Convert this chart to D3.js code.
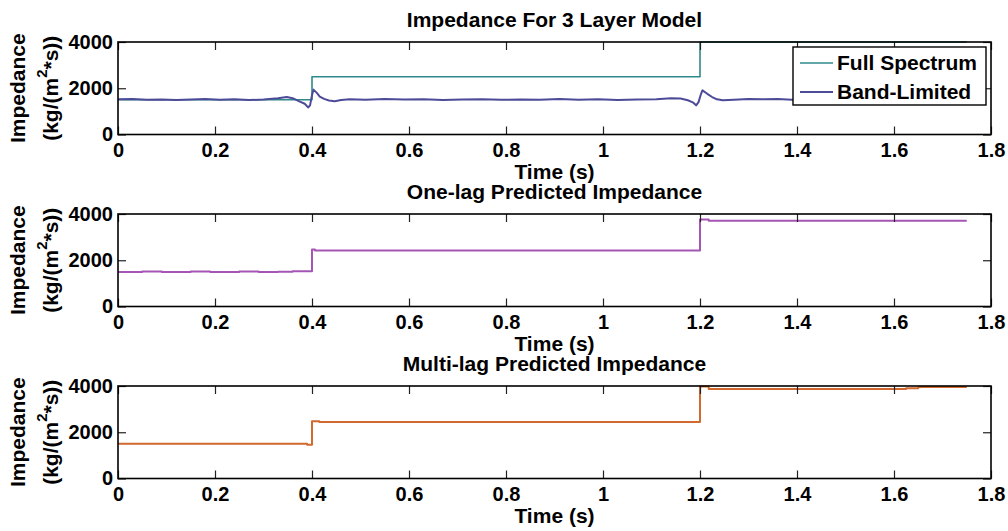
<!DOCTYPE html>
<html>
<head>
<meta charset="utf-8">
<script src="https://cdn.jsdelivr.net/npm/d3@7"></script>
<style>
  body { margin: 0; background: #fff; }
  text { font-family: "Liberation Sans", Arial, sans-serif; font-weight: bold; fill: #000; }
</style>
</head>
<body>
<script>
// ---------------- data ----------------
const xTicks = [0, 0.2, 0.4, 0.6, 0.8, 1, 1.2, 1.4, 1.6, 1.8];
const xTickLabels = ["0", "0.2", "0.4", "0.6", "0.8", "1", "1.2", "1.4", "1.6", "1.8"];
const yTicks = [0, 2000, 4000];
const yTickLabels = ["0", "2000", "4000"];

const titles = ["Impedance For 3 Layer Model", "One-lag Predicted Impedance", "Multi-lag Predicted Impedance"];
const xLabel = "Time (s)";
const legendNames = ["Full Spectrum", "Band-Limited"];

// Full spectrum (step after)
const fullT = [0, 0.4, 1.2, 1.75];
const fullV = [1500, 2500, 4000, 4000];

// Band-limited (continuous)
const bandT = [0, 0.03, 0.06, 0.09, 0.12, 0.15, 0.18, 0.21, 0.24, 0.27, 0.30, 0.33, 0.348, 0.36, 0.375, 0.385, 0.392, 0.396, 0.400, 0.403, 0.41, 0.416, 0.425, 0.435, 0.447, 0.46, 0.478, 0.51, 0.55, 0.59, 0.63, 0.67, 0.71, 0.75, 0.79, 0.83, 0.87, 0.91, 0.95, 0.99, 1.03, 1.07, 1.11, 1.14, 1.16, 1.175, 1.185, 1.192, 1.197, 1.202, 1.205, 1.215, 1.225, 1.235, 1.247, 1.27, 1.30, 1.33, 1.36, 1.39, 1.42, 1.46, 1.50, 1.55, 1.60, 1.65, 1.70, 1.75];
const bandV = [1520, 1530, 1500, 1515, 1490, 1510, 1530, 1500, 1520, 1490, 1510, 1570, 1620, 1570, 1420, 1330, 1170, 1260, 1700, 1940, 1800, 1640, 1540, 1470, 1440, 1490, 1520, 1500, 1530, 1510, 1520, 1490, 1510, 1520, 1500, 1515, 1505, 1530, 1500, 1520, 1490, 1510, 1525, 1570, 1560, 1480, 1390, 1260, 1400, 1750, 1910, 1760, 1620, 1520, 1480, 1500, 1540, 1520, 1530, 1500, 1510, 1520, 1500, 1510, 1520, 1500, 1510, 1500];

// One-lag predicted (step after)
const oneT = [0, 0.05, 0.09, 0.15, 0.19, 0.25, 0.29, 0.33, 0.36, 0.4, 0.406, 1.2, 1.218, 1.75];
const oneV = [1490, 1515, 1495, 1515, 1495, 1510, 1490, 1500, 1520, 2460, 2420, 3760, 3710, 3710];

// Multi-lag predicted (step after)
const multiT = [0, 0.39, 0.4, 0.415, 1.2, 1.218, 1.625, 1.65, 1.75];
const multiV = [1500, 1460, 2480, 2440, 3980, 3870, 3900, 3960, 3960];

// ---------------- layout ----------------
const W = 1008, H = 531;
const left = 118, right = 991;
const tops = [42, 214, 386];
const ph = 92.5;
const colors = { full: "#2f8a8c", band: "#4d4b98", one: "#a556b4", multi: "#d2692e" };

const svg = d3.select("body").append("svg").attr("width", W).attr("height", H);
svg.append("rect").attr("width", W).attr("height", H).attr("fill", "#fff");

const x = d3.scaleLinear().domain([0, 1.8]).range([left, right]);

function zip(t, v) { return t.map((d, i) => [d, v[i]]); }

const panels = [
  { series: [
      { data: zip(fullT, fullV), color: colors.full, curve: d3.curveStepAfter, w: 1.6 },
      { data: zip(bandT, bandV), color: colors.band, curve: d3.curveLinear, w: 2 }
    ] },
  { series: [ { data: zip(oneT, oneV), color: colors.one, curve: d3.curveStepAfter, w: 2 } ] },
  { series: [ { data: zip(multiT, multiV), color: colors.multi, curve: d3.curveStepAfter, w: 2 } ] }
];

panels.forEach((p, i) => {
  const top = tops[i], bottom = top + ph;
  const y = d3.scaleLinear().domain([0, 4000]).range([bottom, top]);
  const g = svg.append("g");

  // lines
  p.series.forEach(s => {
    const line = d3.line().x(d => x(d[0])).y(d => y(d[1])).curve(s.curve);
    g.append("path").attr("d", line(s.data)).attr("fill", "none")
      .attr("stroke", s.color).attr("stroke-width", s.w).attr("stroke-linejoin", "round");
  });

  // axes
  const xb = g.append("g").attr("transform", `translate(0,${bottom})`)
    .call(d3.axisBottom(x).tickValues(xTicks).tickSizeInner(-8).tickSizeOuter(0).tickPadding(8)
      .tickFormat((d, k) => xTickLabels[k]));
  const xt = g.append("g").attr("transform", `translate(0,${top})`)
    .call(d3.axisTop(x).tickValues(xTicks).tickSizeInner(-8).tickSizeOuter(0).tickFormat(""));
  const yl = g.append("g").attr("transform", `translate(${left},0)`)
    .call(d3.axisLeft(y).tickValues(yTicks).tickSizeInner(-8).tickSizeOuter(0).tickPadding(5)
      .tickFormat((d, k) => yTickLabels[k]));
  const yr = g.append("g").attr("transform", `translate(${right},0)`)
    .call(d3.axisRight(y).tickValues(yTicks).tickSizeInner(-8).tickSizeOuter(0).tickFormat(""));
  [xb, xt, yl, yr].forEach(a => {
    a.select(".domain").remove();
    a.selectAll(".tick line").attr("stroke", "#222").attr("stroke-width", 1.2);
    a.selectAll("text").attr("font-size", 20).attr("font-family", null).attr("fill", "#000");
  });

  // frame
  g.append("rect").attr("x", left).attr("y", top).attr("width", right - left).attr("height", ph)
    .attr("fill", "none").attr("stroke", "#000").attr("stroke-width", 1.6);

  // title
  svg.append("text").attr("x", (left + right) / 2).attr("y", top - 15)
    .attr("text-anchor", "middle").attr("font-size", 21).text(titles[i]);
  // x label
  svg.append("text").attr("x", (left + right) / 2).attr("y", bottom + 44)
    .attr("text-anchor", "middle").attr("font-size", 21).text(xLabel);
  // y label
  const cy = (top + bottom) / 2;
  svg.append("text").attr("transform", `translate(25,${cy}) rotate(-90)`)
    .attr("text-anchor", "middle").attr("font-size", 21).text("Impedance");
  const t2 = svg.append("text").attr("transform", `translate(58,${cy}) rotate(-90)`)
    .attr("text-anchor", "middle").attr("font-size", 21);
  t2.append("tspan").text("(kg/(m");
  t2.append("tspan").attr("font-size", 15).attr("dy", -11).text("2");
  t2.append("tspan").attr("dy", 11).text("*s))");

  // legend (first panel)
  if (i === 0) {
    const lg = svg.append("g");
    lg.append("rect").attr("x", 793).attr("y", 47).attr("width", 193).attr("height", 58)
      .attr("fill", "#fff").attr("stroke", "#000").attr("stroke-width", 1.4);
    const lc = [colors.full, colors.band];
    legendNames.forEach((n, k) => {
      const ly = 63 + k * 29;
      lg.append("line").attr("x1", 800).attr("x2", 833).attr("y1", ly).attr("y2", ly)
        .attr("stroke", lc[k]).attr("stroke-width", k === 0 ? 1.6 : 2);
      lg.append("text").attr("x", 837).attr("y", ly).attr("dy", "0.35em")
        .attr("font-size", 21).text(n);
    });
  }
});
</script>
</body>
</html>
